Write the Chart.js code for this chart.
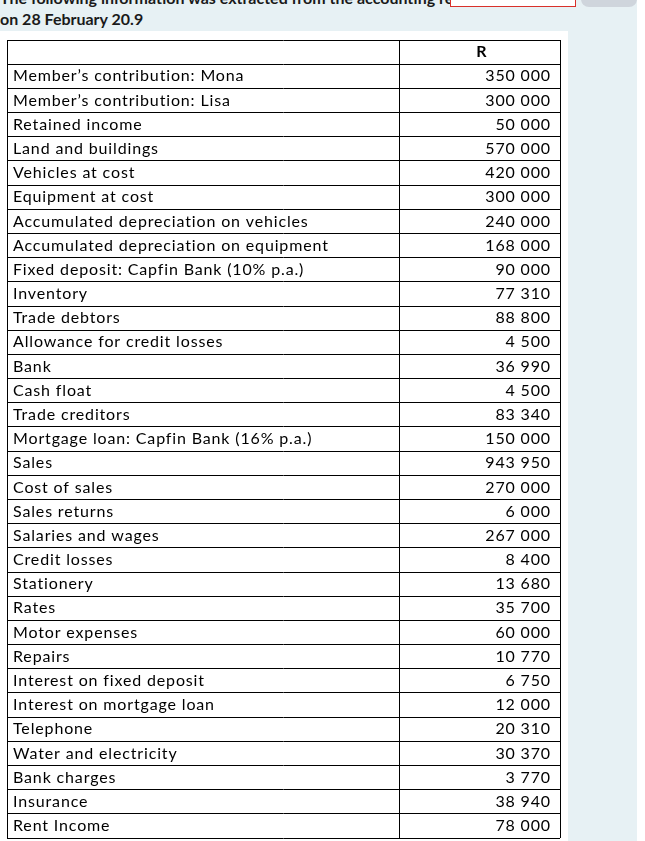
<!DOCTYPE html>
<html>
<head>
<meta charset="utf-8">
<script src="https://cdn.jsdelivr.net/npm/chart.js@4.4.0/dist/chart.umd.min.js"></script>
<style>
  html, body { margin: 0; padding: 0; }
  body { width: 645px; height: 841px; overflow: hidden; position: relative; background: #e7f1f4; font-family: Lato, sans-serif; color: #1a1a1a; }
  .line { position: absolute; left: 0; font-weight: bold; font-size: 16px; line-height: 20px; white-space: nowrap; }
  #cut { top: -12px; }
  #title { top: 9px; }
  #answer { position: absolute; left: 450px; top: -10px; width: 124px; height: 15px; border: 1px solid #d9302a; background: #fff; }
  #btn { position: absolute; left: 581px; top: -12px; width: 56px; height: 19px; border-radius: 8px; background: #cfd5dc; }
  #edge { position: absolute; left: 637px; top: 0; width: 8px; height: 841px; background: #fff; }
  #sheet { position: absolute; left: 0; top: 31px; width: 568px; height: 810px; background: #fff; }
  #wrap { position: absolute; left: 0; top: 38px; width: 568px; height: 802px; }
</style>
</head>
<body>
<div class="line" id="cut">The following information was extracted from the accounting re</div>
<div id="answer"></div>
<div id="btn"></div>
<div id="edge"></div>
<div class="line" id="title">on 28 February 20.9</div>
<div id="sheet"></div>
<div id="wrap"><canvas id="table"></canvas></div>

<script>
// trial balance items and amounts (R)
const items = [
  'Member\u2019s contribution: Mona',
  'Member\u2019s contribution: Lisa',
  'Retained income',
  'Land and buildings',
  'Vehicles at cost',
  'Equipment at cost',
  'Accumulated depreciation on vehicles',
  'Accumulated depreciation on equipment',
  'Fixed deposit: Capfin Bank (10% p.a.)',
  'Inventory',
  'Trade debtors',
  'Allowance for credit losses',
  'Bank',
  'Cash float',
  'Trade creditors',
  'Mortgage loan: Capfin Bank (16% p.a.)',
  'Sales',
  'Cost of sales',
  'Sales returns',
  'Salaries and wages',
  'Credit losses',
  'Stationery',
  'Rates',
  'Motor expenses',
  'Repairs',
  'Interest on fixed deposit',
  'Interest on mortgage loan',
  'Telephone',
  'Water and electricity',
  'Bank charges',
  'Insurance',
  'Rent Income'
];
const amounts = [
  350000, 300000, 50000, 570000, 420000, 300000, 240000, 168000,
  90000, 77310, 88800, 4500, 36990, 4500, 83340, 150000,
  943950, 270000, 6000, 267000, 8400, 13680, 35700, 60000,
  10770, 6750, 12000, 20310, 30370, 3770, 38940, 78000
];
const header = 'R';

const fmt = n => String(n).replace(/\B(?=(\d{3})+(?!\d))/g, ' ');
const rowLabels = [''].concat(items);
const amountLabels = [''].concat(amounts.map(fmt));

const SPLIT = 0.71; // column divider, as a share of the table width
const cellFont = { family: 'Lato', size: 16 };

// mirrored labels sit inside the table, so the axes should take no room
const noRoom = s => { s.width = 0; s.paddingTop = 0; s.paddingBottom = 0; };

const headerPlugin = {
  id: 'headerCell',
  beforeDraw(chart) {
    chart.ctx.letterSpacing = '0.85px';
  },
  afterDraw(chart) {
    const { ctx, scales } = chart;
    ctx.save();
    ctx.font = 'bold 16px Lato';
    ctx.fillStyle = '#000';
    ctx.textAlign = 'center';
    ctx.textBaseline = 'middle';
    ctx.fillText(header, scales.x.getPixelForValue((SPLIT + 1) / 2) + 2, scales.y.getPixelForValue(0));
    ctx.restore();
  }
};

new Chart(document.getElementById('table'), {
  type: 'bar',
  data: { labels: rowLabels, datasets: [] },
  options: {
    indexAxis: 'y',
    responsive: true,
    maintainAspectRatio: false,
    animation: false,
    layout: { padding: { top: 2, bottom: 2, left: 7, right: 8 } },
    plugins: { legend: { display: false }, tooltip: { enabled: false } },
    scales: {
      x: {
        type: 'linear',
        position: 'top',
        min: 0,
        max: 1,
        afterBuildTicks: s => { s.ticks = [{ value: 0 }, { value: SPLIT }, { value: 1 }]; },
        ticks: { display: false },
        grid: { color: '#000', lineWidth: 1, drawTicks: false },
        border: { display: false }
      },
      y: {
        type: 'category',
        position: 'left',
        offset: true,
        afterFit: noRoom,
        grid: { color: '#000', lineWidth: 1, drawTicks: false, offset: true },
        border: { display: false },
        ticks: { mirror: true, padding: 6, autoSkip: false, color: '#000', font: cellFont }
      },
      y2: {
        type: 'category',
        position: 'right',
        labels: amountLabels,
        offset: true,
        afterFit: noRoom,
        grid: { display: false },
        border: { display: false },
        // a mirrored right axis places labels at left + padding, hence the minus
        ticks: { mirror: true, padding: -9, autoSkip: false, color: '#000', font: cellFont }
      }
    }
  },
  plugins: [headerPlugin]
});
</script>
</body>
</html>
